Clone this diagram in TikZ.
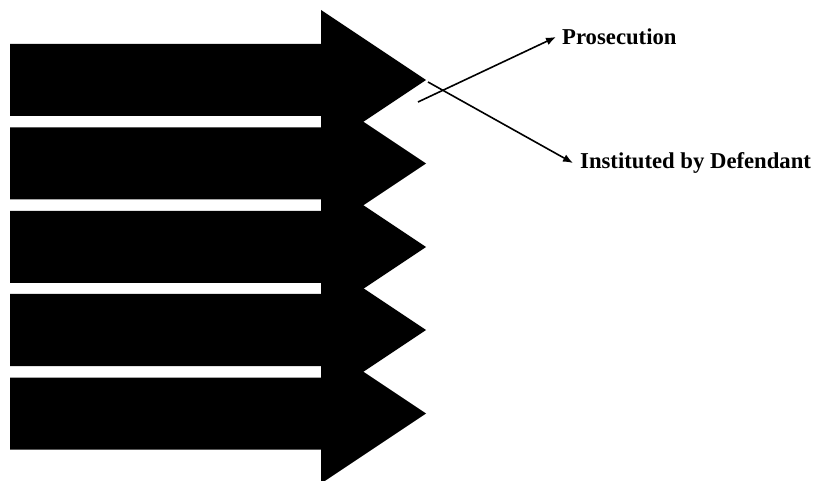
\documentclass[tikz,border=0pt]{standalone}
\usepackage{fontspec}
\setmainfont{Liberation Serif}
\usetikzlibrary{arrows.meta}
\tikzset{
  bigarrow/.style={fill=black},
  lbl/.style={font=\fontsize{22.7}{26}\selectfont\bfseries, anchor=west, inner sep=0pt},
  conn/.style={line width=1.6pt, -{Latex[length=10pt,width=8pt]}}
}
\begin{document}
\begin{tikzpicture}[x=1pt,y=-1pt]
\useasboundingbox (0,0) rectangle (817,481);
\foreach \yc [count=\i] in {80,163.5,247,330,413.5}{
  \fill[bigarrow] (10,\yc-36) -- (321,\yc-36) -- (321,\yc-70) -- (426,\yc)
     -- (321,\yc+70) -- (321,\yc+36) -- (10,\yc+36) -- cycle;
  \coordinate (tip\i) at (426,\yc);
}
\node[lbl] (pros) at (562,37) {Prosecution};
\node[lbl] (inst) at (580,163) {Instituted by Defendant};
\coordinate (s1) at (418,102);
\coordinate (s2) at (428,82);
\draw[conn] (s1) -- ([xshift=-6pt]pros.west);
\draw[conn] (s2) -- ([xshift=-7pt]inst.west);
\end{tikzpicture}
\end{document}
